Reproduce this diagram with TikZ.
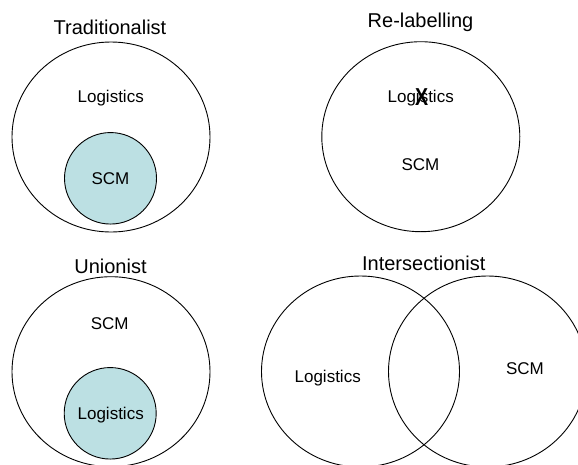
\documentclass[tikz,border=0pt]{standalone}
\usepackage{fontspec}
\setmainfont{Liberation Sans}
\usetikzlibrary{shapes.geometric}
\definecolor{tealfill}{RGB}{188,224,227}
\begin{document}
\begin{tikzpicture}[x=1pt,y=-1pt,
  ring/.style={draw=black,line width=0.9pt,ellipse,inner sep=0pt},
  big/.style={ring,minimum width=198pt,minimum height=190pt},
  small/.style={ring,fill=tealfill,minimum width=92pt,minimum height=91.5pt},
  title/.style={font=\fontsize{20}{24}\selectfont,anchor=base,inner sep=0pt},
  lab/.style={font=\fontsize{17}{20}\selectfont,anchor=base,inner sep=0pt}]
\useasboundingbox (0,0) rectangle (578,464);
% Traditionalist
\node[big] (tout) at (111,137) {};
\node[small] (tin) at (110.5,178.3) {};
\node[title] (ttitle) at (110,34.3) {Traditionalist};
\node[lab] (tlog) at (110.7,102.7) {Logistics};
\node[lab] (tscm) at (110.5,184.3) {SCM};
% Re-labelling
\node[big] (rout) at (420.8,136.7) {};
\node[title] (rtitle) at (420.5,27.3) {Re-labelling};
\node[lab] (rlog) at (420.7,102.5) {Logistics};
\node[lab] (rscm) at (420.5,170) {SCM};
\node[font=\fontsize{24.5}{24.5}\selectfont\bfseries,inner sep=0pt,xscale=0.8] (rx) at (421.7,96.8) {X};
% Unionist
\node[big] (uout) at (111,371.7) {};
\node[small] (uin) at (110.2,413.3) {};
\node[title] (utitle) at (110.5,273.3) {Unionist};
\node[lab] (uscm) at (109.7,329.3) {SCM};
\node[lab] (ulog) at (110.7,419) {Logistics};
% Intersectionist
\node[big,minimum height=191pt] (ileft) at (360.5,371.5) {};
\node[big,minimum height=191pt] (iright) at (487.5,371.5) {};
\node[title] (ititle) at (423.8,270) {Intersectionist};
\node[lab] (ilog) at (327.7,382.7) {Logistics};
\node[lab] (iscm) at (525,374.3) {SCM};
\end{tikzpicture}
\end{document}
